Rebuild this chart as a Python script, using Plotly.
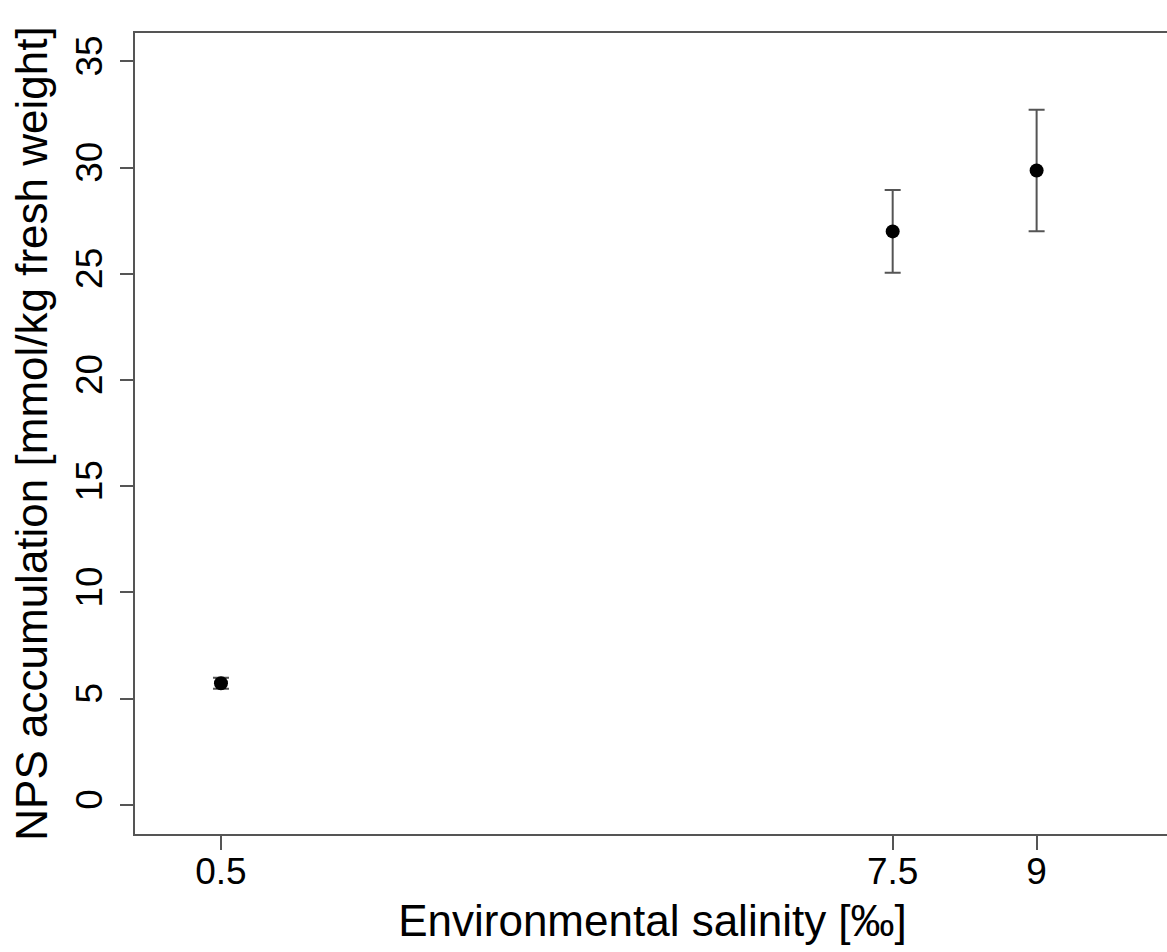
import plotly.graph_objects as go

salinity = [0.5, 7.5, 9]
nps_mean = [5.73, 27.0, 29.87]
nps_err = [0.26, 1.95, 2.86]
x_ticks = [0.5, 7.5, 9]
x_ticklabels = ["0.5", "7.5", "9"]
y_ticks = [0, 5, 10, 15, 20, 25, 30, 35]

axis_col = "#555555"
font_family = "Liberation Sans, Arial, sans-serif"

fig = go.Figure()
fig.add_trace(go.Scatter(
    x=salinity, y=nps_mean, mode="markers",
    marker=dict(color="black", size=14, line=dict(width=0)),
    error_y=dict(type="data", array=nps_err, visible=True,
                 color=axis_col, thickness=2, width=8),
    showlegend=False,
))

# The figure is a little wider than the window so that, as in the
# reference, the right-hand side of the plot box falls outside the picture.
fig.update_layout(
    width=1170, height=952,
    margin=dict(l=135, r=0, t=33, b=118),
    paper_bgcolor="white", plot_bgcolor="white",
    font=dict(family=font_family, color="black", size=37),
    xaxis=dict(
        range=[-0.396, 10.39], tickvals=x_ticks, ticktext=x_ticklabels,
        showgrid=False, zeroline=False, showline=True, linecolor=axis_col,
        linewidth=2, mirror=True, ticks="outside", ticklen=14, tickwidth=2,
        tickcolor=axis_col, tickfont=dict(size=37), ticklabelstandoff=-10,
        title=dict(text="Environmental salinity [‰]", font=dict(size=44), standoff=14),
    ),
    yaxis=dict(
        range=[-1.37, 36.34], tickvals=y_ticks,
        showgrid=False, zeroline=False, showline=True, linecolor=axis_col,
        linewidth=2, ticks="outside", ticklen=13, tickwidth=2,
        tickcolor=axis_col, tickangle=-90, tickfont=dict(size=37), ticklabelstandoff=3,
        title=dict(text="NPS accumulation [mmol/kg fresh weight]", font=dict(size=44), standoff=8),
    ),
)

fig.write_html("out.html", config={"displayModeBar": False})
with open("out.html", "r", encoding="utf-8") as f:
    html = f.read()
html = html.replace("<head>", "<head><style>html,body{margin:0;padding:0;overflow:hidden;}</style>", 1)
with open("out.html", "w", encoding="utf-8") as f:
    f.write(html)
